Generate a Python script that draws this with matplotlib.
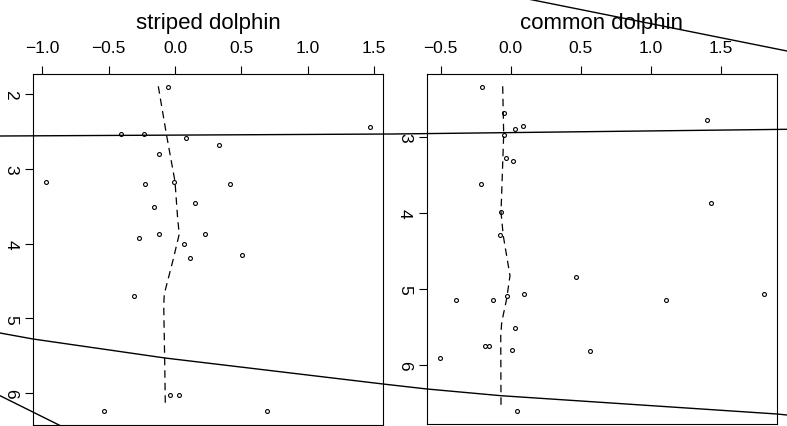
import matplotlib
matplotlib.use("Agg")
import matplotlib.pyplot as plt
from matplotlib.lines import Line2D

plt.rcParams['font.family'] = ['Liberation Sans', 'DejaVu Sans']

# striped dolphin: points (value, depth) and dashed smooth
striped_val = [-0.050, 1.469, -0.407, -0.236, 0.083, 0.329, -0.118, -0.974, -0.224,
               -0.008, 0.412, 0.151, -0.161, -0.274, -0.121, 0.228, 0.070, 0.111,
               0.503, -0.311, -0.035, 0.028, -0.535, 0.691]
striped_depth = [1.910, 2.445, 2.531, 2.539, 2.592, 2.682, 2.806, 3.172, 3.203,
                 3.172, 3.207, 3.461, 3.515, 3.925, 3.876, 3.876, 4.009, 4.197,
                 4.156, 4.705, 6.028, 6.028, 6.242, 6.242]
striped_fit_val = [-0.126, -0.063, 0.0, 0.020, 0.032, -0.013, -0.081, -0.085, -0.078, -0.073]
striped_fit_depth = [1.897, 2.557, 3.172, 3.671, 3.872, 4.206, 4.674, 4.830, 5.543, 6.167]

# common dolphin
common_val = [-0.207, -0.046, 0.031, 0.086, 1.398, -0.050, -0.031, 0.016, -0.212,
              1.429, -0.069, -0.074, 0.464, -0.390, -0.124, -0.029, 0.097, 1.110,
              1.809, 0.029, -0.185, -0.155, 0.007, 0.568, -0.506, 0.045]
common_depth = [2.341, 2.684, 2.887, 2.855, 2.776, 2.966, 3.273, 3.316, 3.615,
                3.862, 3.988, 4.283, 4.845, 5.140, 5.140, 5.087, 5.068, 5.140,
                5.068, 5.513, 5.754, 5.746, 5.798, 5.812, 5.908, 6.610]
common_fit_val = [-0.057, -0.050, -0.069, -0.053, -0.005, -0.029, -0.064, -0.071, -0.069]
common_fit_depth = [2.328, 2.966, 3.988, 4.296, 4.823, 5.130, 5.437, 5.614, 6.580]

panels = [
    ("striped dolphin", striped_val, striped_depth, striped_fit_val, striped_fit_depth,
     [-1.0, -0.5, 0.0, 0.5, 1.0, 1.5], [2, 3, 4, 5, 6],
     (-1.07, 1.567), (6.425, 1.733), [33 / 787, 1 / 427, 350 / 787, 351 / 427]),
    ("common dolphin", common_val, common_depth, common_fit_val, common_fit_depth,
     [-0.5, 0.0, 0.5, 1.0, 1.5], [3, 4, 5, 6],
     (-0.599, 1.897), (6.777, 2.166), [426.7 / 787, 2 / 427, 350 / 787, 350 / 427]),
]

# stray lines across the figure, pixel coords (x, y from top)
stray_lines = [
    ([0, 393, 787], [137, 135, 130.3]),
    ([0, 33, 165, 383, 427, 501, 777, 787], [334, 340, 359, 385, 390, 396.7, 415, 416]),
    ([528, 787], [0, 52]),
    ([0, 61], [396.7, 427]),
]

fig = plt.figure(figsize=(7.87, 4.27), dpi=100)

for title, xv, dv, fx, fd, xt, yt, xl, yl, pos in panels:
    ax = fig.add_axes(pos)
    ax.plot(xv, dv, 'o', ms=2.8, mfc='none', mec='black', mew=0.8)
    ax.plot(fx, fd, color='black', lw=0.9, linestyle=(0, (6, 4)))
    ax.set_xlim(*xl)
    ax.set_ylim(*yl)
    ax.set_xticks(xt)
    ax.set_xticklabels([f"{t:.1f}".replace('-', '\u2212') for t in xt])
    ax.set_yticks(yt)
    ax.set_yticklabels([str(t) for t in yt], rotation=-90, va='center')
    ax.xaxis.tick_top()
    ax.tick_params(axis='both', direction='out', length=5.5, width=0.8, labelsize=12.5)
    ax.tick_params(axis='x', pad=8)
    ax.tick_params(axis='y', pad=5)
    for s in ax.spines.values():
        s.set_linewidth(0.8)
    ax.set_title(title, fontsize=16, pad=33)

for xs, ys in stray_lines:
    fig.add_artist(Line2D([x / 787 for x in xs], [1 - y / 427 for y in ys],
                          transform=fig.transFigure, color='black', lw=1.0, zorder=10))

fig.savefig("out.png", dpi=100)
